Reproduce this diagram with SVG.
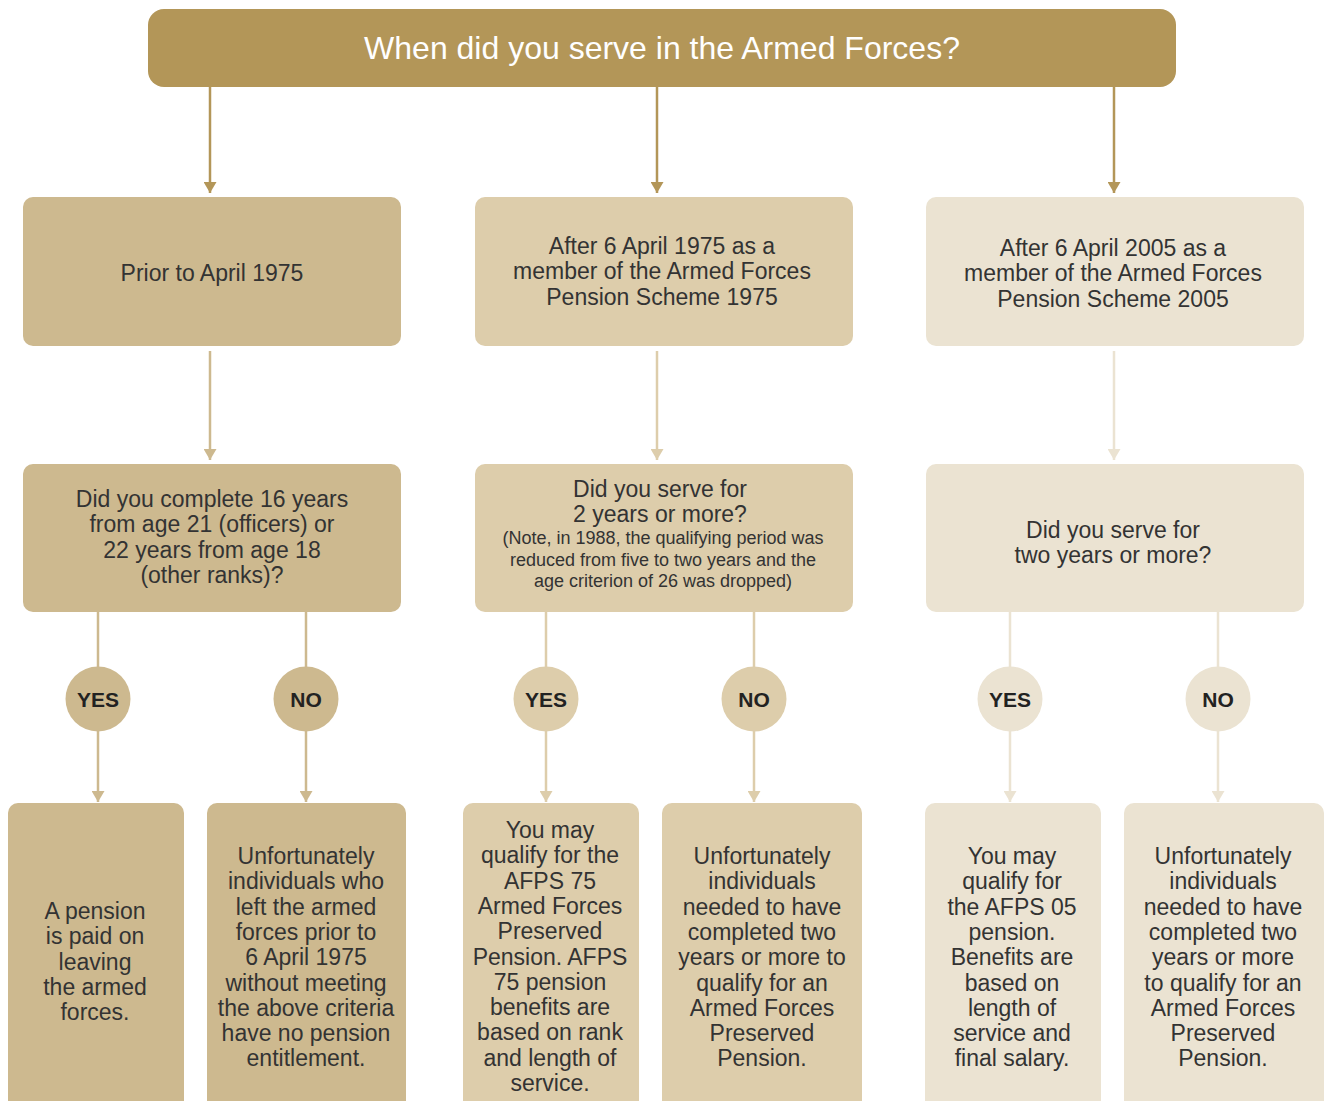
<svg xmlns="http://www.w3.org/2000/svg" width="1324" height="1101" viewBox="0 0 1324 1101">
<style>
.t{font-family:"Liberation Sans",Arial,sans-serif;font-size:23px;fill:#333;text-anchor:middle}
.s{font-size:18px}
.h{font-family:"Liberation Sans",Arial,sans-serif;font-size:32px;fill:#fff;text-anchor:middle}
.b{font-family:"Liberation Sans",Arial,sans-serif;font-size:21px;font-weight:bold;fill:#222;text-anchor:middle}
.c0{fill:#b39658}.c1{fill:#cdb98f}.c2{fill:#ddcdab}.c3{fill:#ebe3d2}
.l0{stroke:#b39658}.l1{stroke:#cdb98f}.l2{stroke:#ddcdab}.l3{stroke:#ebe3d2}
line{stroke-width:2.5}
</style>
<defs>
<marker id="a0" markerWidth="13" markerHeight="11" refX="6.5" refY="11" orient="0" markerUnits="userSpaceOnUse"><path d="M0,0 L13,0 L6.5,11 Z" fill="#b39658"/></marker>
<marker id="a1" markerWidth="13" markerHeight="11" refX="6.5" refY="11" orient="0" markerUnits="userSpaceOnUse"><path d="M0,0 L13,0 L6.5,11 Z" fill="#cdb98f"/></marker>
<marker id="a2" markerWidth="13" markerHeight="11" refX="6.5" refY="11" orient="0" markerUnits="userSpaceOnUse"><path d="M0,0 L13,0 L6.5,11 Z" fill="#ddcdab"/></marker>
<marker id="a3" markerWidth="13" markerHeight="11" refX="6.5" refY="11" orient="0" markerUnits="userSpaceOnUse"><path d="M0,0 L13,0 L6.5,11 Z" fill="#ebe3d2"/></marker>
</defs>
<g id="connectors">
<line class="l0" x1="210" y1="87" x2="210" y2="193" marker-end="url(#a0)"/>
<line class="l0" x1="657" y1="87" x2="657" y2="193" marker-end="url(#a0)"/>
<line class="l0" x1="1114" y1="87" x2="1114" y2="193" marker-end="url(#a0)"/>
<line class="l1" x1="210" y1="351" x2="210" y2="460" marker-end="url(#a1)"/>
<line class="l2" x1="657" y1="351" x2="657" y2="460" marker-end="url(#a2)"/>
<line class="l3" x1="1114" y1="351" x2="1114" y2="460" marker-end="url(#a3)"/>
<line class="l1" x1="98" y1="612" x2="98" y2="668"/>
<line class="l1" x1="98" y1="730" x2="98" y2="802" marker-end="url(#a1)"/>
<line class="l1" x1="306" y1="612" x2="306" y2="668"/>
<line class="l1" x1="306" y1="730" x2="306" y2="802" marker-end="url(#a1)"/>
<line class="l2" x1="546" y1="612" x2="546" y2="668"/>
<line class="l2" x1="546" y1="730" x2="546" y2="802" marker-end="url(#a2)"/>
<line class="l2" x1="754" y1="612" x2="754" y2="668"/>
<line class="l2" x1="754" y1="730" x2="754" y2="802" marker-end="url(#a2)"/>
<line class="l3" x1="1010" y1="612" x2="1010" y2="668"/>
<line class="l3" x1="1010" y1="730" x2="1010" y2="802" marker-end="url(#a3)"/>
<line class="l3" x1="1218" y1="612" x2="1218" y2="668"/>
<line class="l3" x1="1218" y1="730" x2="1218" y2="802" marker-end="url(#a3)"/>
</g>
<g id="title"><rect class="c0" x="148" y="9" width="1028" height="78" rx="16"/><text class="h" x="662" y="59">When did you serve in the Armed Forces?</text></g>
<g id="prior1975"><rect class="c1" x="23" y="197" width="378" height="149" rx="10"/><text class="t" x="212" y="281">Prior to April 1975</text></g>
<g id="after1975"><rect class="c2" x="475" y="197" width="378" height="149" rx="10"/><text class="t" x="662" y="254">After 6 April 1975 as a<tspan x="662" dy="25.3">member of the Armed Forces</tspan><tspan x="662" dy="25.3">Pension Scheme 1975</tspan></text></g>
<g id="after2005"><rect class="c3" x="926" y="197" width="378" height="149" rx="10"/><text class="t" x="1113" y="256">After 6 April 2005 as a<tspan x="1113" dy="25.3">member of the Armed Forces</tspan><tspan x="1113" dy="25.3">Pension Scheme 2005</tspan></text></g>
<g id="q1"><rect class="c1" x="23" y="464" width="378" height="148" rx="10"/><text class="t" x="212" y="507">Did you complete 16 years<tspan x="212" dy="25.3">from age 21 (officers) or</tspan><tspan x="212" dy="25.3">22 years from age 18</tspan><tspan x="212" dy="25.3">(other ranks)?</tspan></text></g>
<g id="q2"><rect class="c2" x="475" y="464" width="378" height="148" rx="10"/><text class="t" x="660" y="497">Did you serve for<tspan x="660" dy="25">2 years or more?</tspan></text><text class="t s" x="663" y="544">(Note, in 1988, the qualifying period was<tspan x="663" dy="21.5">reduced from five to two years and the</tspan><tspan x="663" dy="21.5">age criterion of 26 was dropped)</tspan></text></g>
<g id="q3"><rect class="c3" x="926" y="464" width="378" height="148" rx="10"/><text class="t" x="1113" y="538">Did you serve for<tspan x="1113" dy="25.3">two years or more?</tspan></text></g>
<g id="yes1"><circle class="c1" cx="98" cy="699" r="32.5"/><text class="b" x="98" y="707">YES</text></g>
<g id="no1"><circle class="c1" cx="306" cy="699" r="32.5"/><text class="b" x="306" y="707">NO</text></g>
<g id="yes2"><circle class="c2" cx="546" cy="699" r="32.5"/><text class="b" x="546" y="707">YES</text></g>
<g id="no2"><circle class="c2" cx="754" cy="699" r="32.5"/><text class="b" x="754" y="707">NO</text></g>
<g id="yes3"><circle class="c3" cx="1010" cy="699" r="32.5"/><text class="b" x="1010" y="707">YES</text></g>
<g id="no3"><circle class="c3" cx="1218" cy="699" r="32.5"/><text class="b" x="1218" y="707">NO</text></g>
<g id="r1"><rect class="c1" x="8" y="803" width="176" height="320" rx="10"/><text class="t" x="95" y="919">A pension<tspan x="95" dy="25.3">is paid on</tspan><tspan x="95" dy="25.3">leaving</tspan><tspan x="95" dy="25.3">the armed</tspan><tspan x="95" dy="25.3">forces.</tspan></text></g>
<g id="r2"><rect class="c1" x="207" y="803" width="199" height="320" rx="10"/><text class="t" x="306" y="864">Unfortunately<tspan x="306" dy="25.3">individuals who</tspan><tspan x="306" dy="25.3">left the armed</tspan><tspan x="306" dy="25.3">forces prior to</tspan><tspan x="306" dy="25.3">6 April 1975</tspan><tspan x="306" dy="25.3">without meeting</tspan><tspan x="306" dy="25.3">the above criteria</tspan><tspan x="306" dy="25.3">have no pension</tspan><tspan x="306" dy="25.3">entitlement.</tspan></text></g>
<g id="r3"><rect class="c2" x="463" y="803" width="176" height="320" rx="10"/><text class="t" x="550" y="838">You may<tspan x="550" dy="25.3">qualify for the</tspan><tspan x="550" dy="25.3">AFPS 75</tspan><tspan x="550" dy="25.3">Armed Forces</tspan><tspan x="550" dy="25.3">Preserved</tspan><tspan x="550" dy="25.3">Pension. AFPS</tspan><tspan x="550" dy="25.3">75 pension</tspan><tspan x="550" dy="25.3">benefits are</tspan><tspan x="550" dy="25.3">based on rank</tspan><tspan x="550" dy="25.3">and length of</tspan><tspan x="550" dy="25.3">service.</tspan></text></g>
<g id="r4"><rect class="c2" x="662" y="803" width="200" height="320" rx="10"/><text class="t" x="762" y="864">Unfortunately<tspan x="762" dy="25.3">individuals</tspan><tspan x="762" dy="25.3">needed to have</tspan><tspan x="762" dy="25.3">completed two</tspan><tspan x="762" dy="25.3">years or more to</tspan><tspan x="762" dy="25.3">qualify for an</tspan><tspan x="762" dy="25.3">Armed Forces</tspan><tspan x="762" dy="25.3">Preserved</tspan><tspan x="762" dy="25.3">Pension.</tspan></text></g>
<g id="r5"><rect class="c3" x="925" y="803" width="176" height="320" rx="10"/><text class="t" x="1012" y="864">You may<tspan x="1012" dy="25.3">qualify for</tspan><tspan x="1012" dy="25.3">the AFPS 05</tspan><tspan x="1012" dy="25.3">pension.</tspan><tspan x="1012" dy="25.3">Benefits are</tspan><tspan x="1012" dy="25.3">based on</tspan><tspan x="1012" dy="25.3">length of</tspan><tspan x="1012" dy="25.3">service and</tspan><tspan x="1012" dy="25.3">final salary.</tspan></text></g>
<g id="r6"><rect class="c3" x="1124" y="803" width="200" height="320" rx="10"/><text class="t" x="1223" y="864">Unfortunately<tspan x="1223" dy="25.3">individuals</tspan><tspan x="1223" dy="25.3">needed to have</tspan><tspan x="1223" dy="25.3">completed two</tspan><tspan x="1223" dy="25.3">years or more</tspan><tspan x="1223" dy="25.3">to qualify for an</tspan><tspan x="1223" dy="25.3">Armed Forces</tspan><tspan x="1223" dy="25.3">Preserved</tspan><tspan x="1223" dy="25.3">Pension.</tspan></text></g>
</svg>
